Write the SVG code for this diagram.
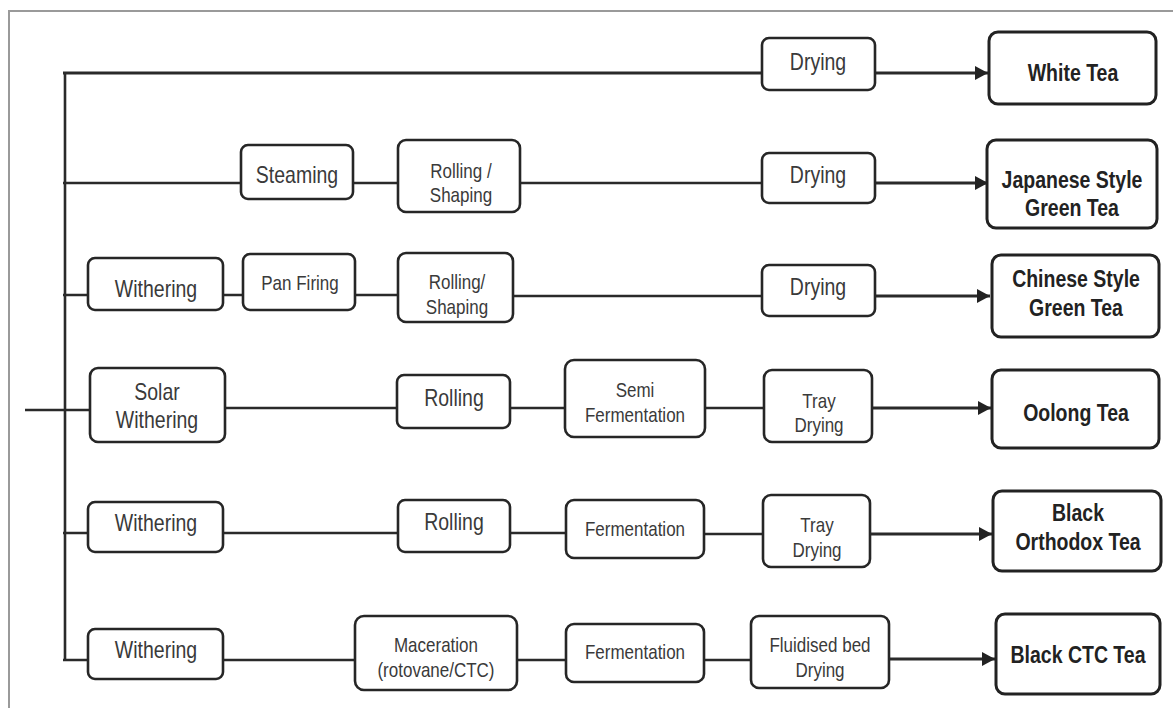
<svg xmlns="http://www.w3.org/2000/svg" width="1173" height="708" viewBox="0 0 1173 708">
<style>
.frame{fill:none;stroke:#9a9a9a;stroke-width:2}
.box{fill:#fff;stroke:#262626;stroke-width:2.6}
.res{fill:#fff;stroke:#222;stroke-width:3}
.ln{fill:none;stroke:#2a2a2a;stroke-width:2.6}
.ar{fill:none;stroke:#2a2a2a;stroke-width:3}
.t{font-family:"Liberation Sans",Arial,sans-serif;font-size:19.5px;fill:#3a3a3a;text-anchor:middle}
.s{font-family:"Liberation Sans",Arial,sans-serif;font-size:17px;fill:#3a3a3a;text-anchor:middle}
.b{font-family:"Liberation Sans",Arial,sans-serif;font-size:19.5px;font-weight:bold;fill:#222;text-anchor:middle}
</style>
<defs>
<marker id="ah" markerUnits="userSpaceOnUse" markerWidth="14" markerHeight="14" refX="13" refY="7" orient="auto">
<path d="M0,0 L13,7 L0,14 Z" fill="#222"/>
</marker>
</defs>
<rect width="1173" height="708" fill="#fff"/>
<path class="frame" d="M9,708 V11 H1173"/>
<g id="connectors">
<path class="ln" d="M65,73 V661"/>
<path class="ln" d="M25,410 H90"/>
<path class="ln" style="stroke-width:3" d="M63,73 H762"/>
<path class="ar" d="M875,73 H988" marker-end="url(#ah)"/>
<path class="ln" d="M63,183 H241 M353,183 H398 M520,183 H762"/>
<path class="ar" d="M875,183 H988" marker-end="url(#ah)"/>
<path class="ln" d="M63,295 H88 M223,295 H243 M355,295 H398 M513,296 H762"/>
<path class="ar" d="M875,296 H990" marker-end="url(#ah)"/>
<path class="ln" d="M225,408 H397 M510,408 H565 M705,408 H764"/>
<path class="ar" d="M872,408 H991" marker-end="url(#ah)"/>
<path class="ln" d="M63,533 H88 M223,533 H398 M510,533 H566 M704,534 H763"/>
<path class="ar" d="M870,534 H992" marker-end="url(#ah)"/>
<path class="ln" d="M63,660 H88 M223,660 H355 M517,660 H566 M704,660 H751"/>
<path class="ar" d="M889,659 H995" marker-end="url(#ah)"/>
</g>
<g id="n-drying1"><rect class="box" x="762" y="38" width="113" height="52" rx="7"/><text class="t" transform="translate(818,70) scale(1,1.2)">Drying</text></g>
<g id="n-white"><rect class="res" x="989" y="32" width="167" height="72" rx="9"/><text class="b" transform="translate(1073,81) scale(1,1.2)">White Tea</text></g>

<g id="n-steaming"><rect class="box" x="241" y="145" width="112" height="54" rx="7"/><text class="t" transform="translate(297,183) scale(1,1.2)">Steaming</text></g>
<g id="n-rolling2"><rect class="box" x="398" y="140" width="122" height="72" rx="8"/><text class="s" transform="translate(461,178) scale(1,1.2)">Rolling /</text><text class="s" transform="translate(461,202) scale(1,1.2)">Shaping</text></g>
<g id="n-drying2"><rect class="box" x="762" y="153" width="113" height="50" rx="7"/><text class="t" transform="translate(818,183) scale(1,1.2)">Drying</text></g>
<g id="n-japanese"><rect class="res" x="987" y="140" width="170" height="88" rx="9"/><text class="b" transform="translate(1072,188) scale(1,1.2)">Japanese Style</text><text class="b" transform="translate(1072,216) scale(1,1.2)">Green Tea</text></g>

<g id="n-withering3"><rect class="box" x="88" y="258" width="135" height="52" rx="7"/><text class="t" transform="translate(156,297) scale(1,1.2)">Withering</text></g>
<g id="n-panfiring"><rect class="box" x="243" y="254" width="112" height="56" rx="7"/><text class="s" transform="translate(300,290) scale(1,1.2)">Pan Firing</text></g>
<g id="n-rolling3"><rect class="box" x="398" y="253" width="115" height="69" rx="8"/><text class="s" transform="translate(457,289) scale(1,1.2)">Rolling/</text><text class="s" transform="translate(457,314) scale(1,1.2)">Shaping</text></g>
<g id="n-drying3"><rect class="box" x="762" y="265" width="113" height="51" rx="7"/><text class="t" transform="translate(818,295) scale(1,1.2)">Drying</text></g>
<g id="n-chinese"><rect class="res" x="992" y="255" width="167" height="82" rx="9"/><text class="b" transform="translate(1076,287) scale(1,1.2)">Chinese Style</text><text class="b" transform="translate(1076,316) scale(1,1.2)">Green Tea</text></g>

<g id="n-solar"><rect class="box" x="90" y="368" width="135" height="74" rx="8"/><text class="t" transform="translate(157,400) scale(1,1.2)">Solar</text><text class="t" transform="translate(157,428) scale(1,1.2)">Withering</text></g>
<g id="n-rolling4"><rect class="box" x="397" y="375" width="113" height="53" rx="7"/><text class="t" transform="translate(454,406) scale(1,1.2)">Rolling</text></g>
<g id="n-semi"><rect class="box" x="565" y="360" width="140" height="77" rx="9"/><text class="s" transform="translate(635,397) scale(1,1.2)">Semi</text><text class="s" transform="translate(635,422) scale(1,1.2)">Fermentation</text></g>
<g id="n-tray4"><rect class="box" x="764" y="370" width="108" height="72" rx="8"/><text class="s" transform="translate(819,408) scale(1,1.2)">Tray</text><text class="s" transform="translate(819,432) scale(1,1.2)">Drying</text></g>
<g id="n-oolong"><rect class="res" x="992" y="370" width="167" height="78" rx="9"/><text class="b" transform="translate(1076,421) scale(1,1.2)">Oolong Tea</text></g>

<g id="n-withering5"><rect class="box" x="88" y="502" width="135" height="50" rx="7"/><text class="t" transform="translate(156,531) scale(1,1.2)">Withering</text></g>
<g id="n-rolling5"><rect class="box" x="398" y="500" width="112" height="52" rx="7"/><text class="t" transform="translate(454,530) scale(1,1.2)">Rolling</text></g>
<g id="n-ferm5"><rect class="box" x="566" y="500" width="138" height="58" rx="8"/><text class="s" transform="translate(635,536) scale(1,1.2)">Fermentation</text></g>
<g id="n-tray5"><rect class="box" x="763" y="495" width="107" height="72" rx="8"/><text class="s" transform="translate(817,532) scale(1,1.2)">Tray</text><text class="s" transform="translate(817,557) scale(1,1.2)">Drying</text></g>
<g id="n-orthodox"><rect class="res" x="993" y="491" width="168" height="80" rx="9"/><text class="b" transform="translate(1078,521) scale(1,1.2)">Black</text><text class="b" transform="translate(1078,550) scale(1,1.2)">Orthodox Tea</text></g>

<g id="n-withering6"><rect class="box" x="88" y="629" width="135" height="50" rx="7"/><text class="t" transform="translate(156,658) scale(1,1.2)">Withering</text></g>
<g id="n-maceration"><rect class="box" x="355" y="616" width="162" height="74" rx="9"/><text class="s" transform="translate(436,652) scale(1,1.2)">Maceration</text><text class="s" transform="translate(436,677) scale(1,1.2)">(rotovane/CTC)</text></g>
<g id="n-ferm6"><rect class="box" x="566" y="624" width="138" height="58" rx="8"/><text class="s" transform="translate(635,659) scale(1,1.2)">Fermentation</text></g>
<g id="n-fluid"><rect class="box" x="751" y="616" width="138" height="72" rx="8"/><text class="s" transform="translate(820,652) scale(1,1.2)">Fluidised bed</text><text class="s" transform="translate(820,677) scale(1,1.2)">Drying</text></g>
<g id="n-ctc"><rect class="res" x="996" y="614" width="164" height="80" rx="9"/><text class="b" transform="translate(1078,663) scale(1,1.2)">Black CTC Tea</text></g>
</svg>
